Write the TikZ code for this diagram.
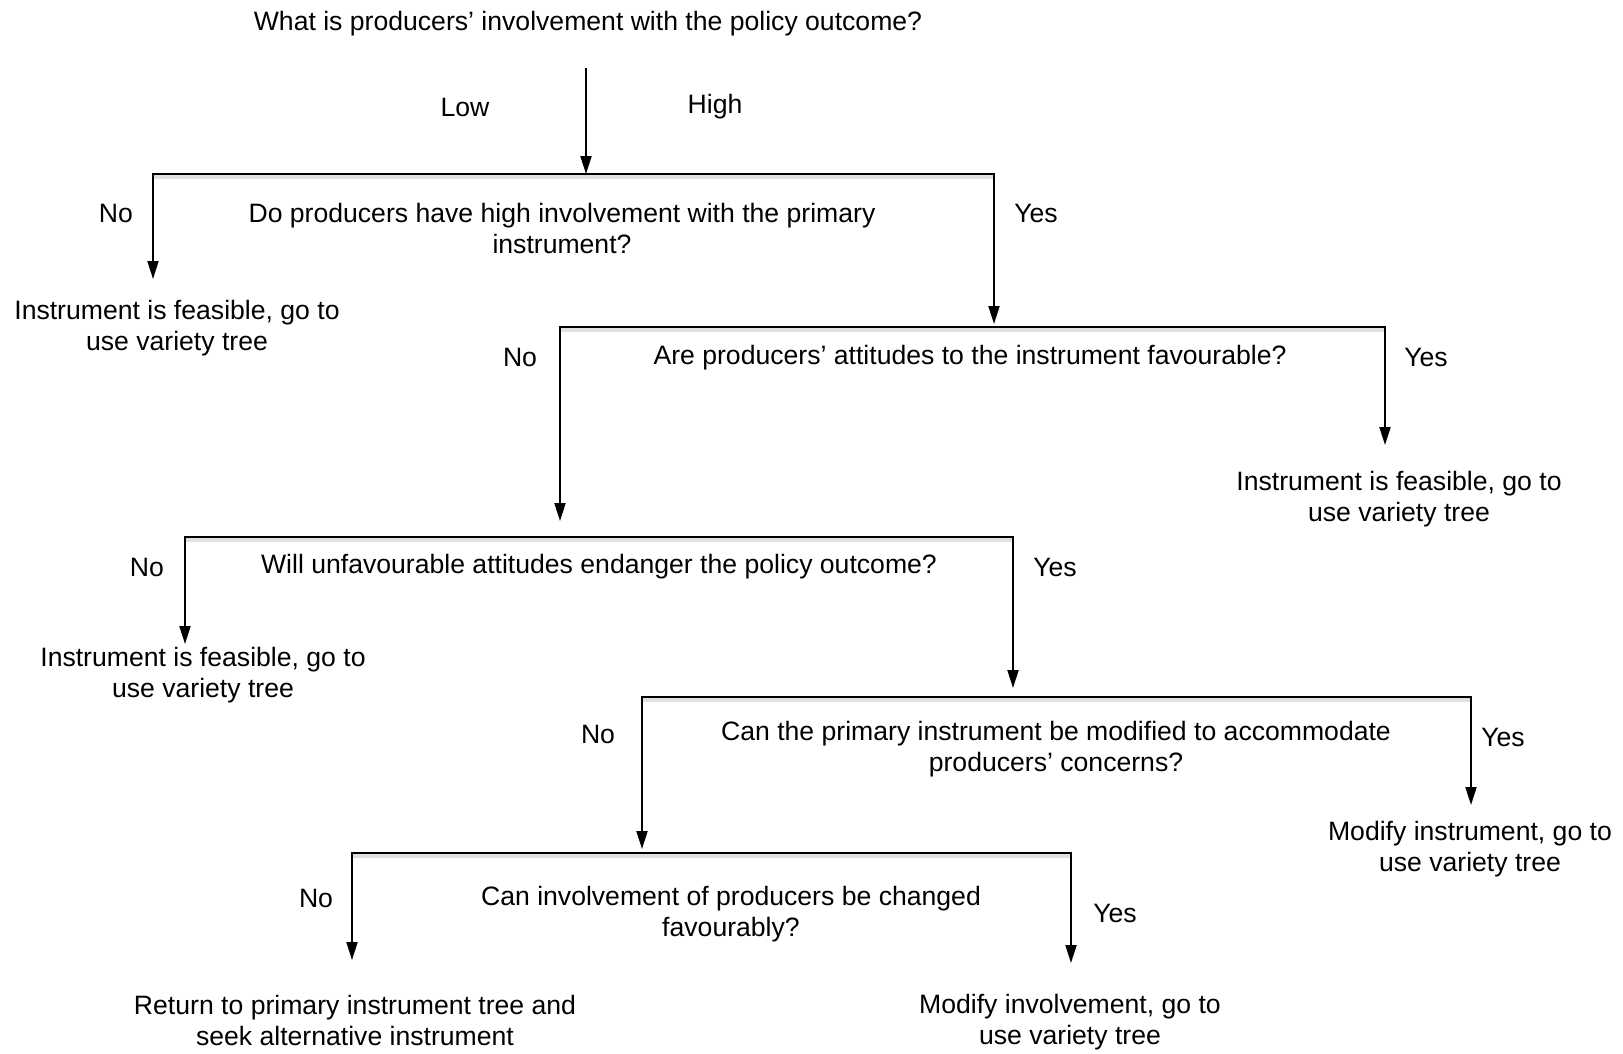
\documentclass[tikz,border=0pt]{standalone}
\usepackage{fontspec}
\setmainfont{Liberation Sans}
\usetikzlibrary{arrows.meta}
\begin{document}
\begin{tikzpicture}[x=1pt,y=-1pt,
  txt/.style={font=\fontsize{26.6}{31}\selectfont, align=center, inner sep=0pt, yshift=-2.5pt},
  flow/.style={line width=2pt, line cap=rect, -{Triangle[length=18pt,width=11pt]}},
  bar/.style={line width=2pt, line cap=rect},
  barshade/.style={line width=4pt, black!12}]
\useasboundingbox[fill=white] (0,0) rectangle (1623,1053);

% ---- texts ----
\node[txt] (q0) at (588,21) {What is producers’ involvement with the policy outcome?};
\node[txt] (low) at (465,105) {Low};
\node[txt] (high) at (715,104) {High};

\node[txt] (no1) at (116,211) {No};
\node[txt] (q1) at (562,226) {Do producers have high involvement with the primary\\instrument?};
\node[txt] (yes1) at (1036,211) {Yes};
\node[txt] (leaf1) at (177,326) {Instrument is feasible, go to\\use variety tree};

\node[txt] (no2) at (520,355) {No};
\node[txt] (q2) at (970,355) {Are producers’ attitudes to the instrument favourable?};
\node[txt] (yes2) at (1426,355) {Yes};
\node[txt] (leaf2) at (1399,497) {Instrument is feasible, go to\\use variety tree};

\node[txt] (no3) at (147,565) {No};
\node[txt] (q3) at (599,564) {Will unfavourable attitudes endanger the policy outcome?};
\node[txt] (yes3) at (1055,565) {Yes};
\node[txt] (leaf3) at (203,673) {Instrument is feasible, go to\\use variety tree};

\node[txt] (no4) at (598,732) {No};
\node[txt] (q4) at (1056,747) {Can the primary instrument be modified to accommodate\\producers’ concerns?};
\node[txt] (yes4) at (1503,735) {Yes};
\node[txt] (leaf4) at (1470,847) {Modify instrument, go to\\use variety tree};

\node[txt] (no5) at (316,896) {No};
\node[txt] (q5) at (731,912) {Can involvement of producers be changed\\favourably?};
\node[txt] (yes5) at (1115,911) {Yes};
\node[txt] (leaf5) at (355,1018) {Return to primary instrument tree and\\seek alternative instrument};
\node[txt] (leaf6) at (1070,1020) {Modify involvement, go to\\use variety tree};

% ---- branch corners and arrow ends ----
\coordinate (s0) at (586,69);
\coordinate (b1l) at (153,174);  \coordinate (b1r) at (994,174);  \coordinate (b1m) at (586,174);
\coordinate (t1l) at (153,279);  \coordinate (t1r) at (994,324);
\coordinate (b2l) at (560,327);  \coordinate (b2r) at (1385,327);
\coordinate (t2l) at (560,521);  \coordinate (t2r) at (1385,445);
\coordinate (b3l) at (185,537);  \coordinate (b3r) at (1013,537);
\coordinate (t3l) at (185,644);  \coordinate (t3r) at (1013,688);
\coordinate (b4l) at (642,697);  \coordinate (b4r) at (1471,697);
\coordinate (t4l) at (642,849);  \coordinate (t4r) at (1471,805);
\coordinate (b5l) at (352,853);  \coordinate (b5r) at (1071,853);
\coordinate (t5l) at (352,960);  \coordinate (t5r) at (1071,963);

% faint shading under each bar
\foreach \b in {1,...,5}{
  \draw[barshade] ([yshift=-3pt]b\b l) -- ([yshift=-3pt]b\b r);
}

% ---- connectors ----
\draw[flow] (s0) -- (b1m);
\foreach \b in {1,...,5}{
  \draw[bar] (b\b l) -- (b\b r);
  \draw[flow] (b\b l) -- (t\b l);
  \draw[flow] (b\b r) -- (t\b r);
}
\end{tikzpicture}
\end{document}
